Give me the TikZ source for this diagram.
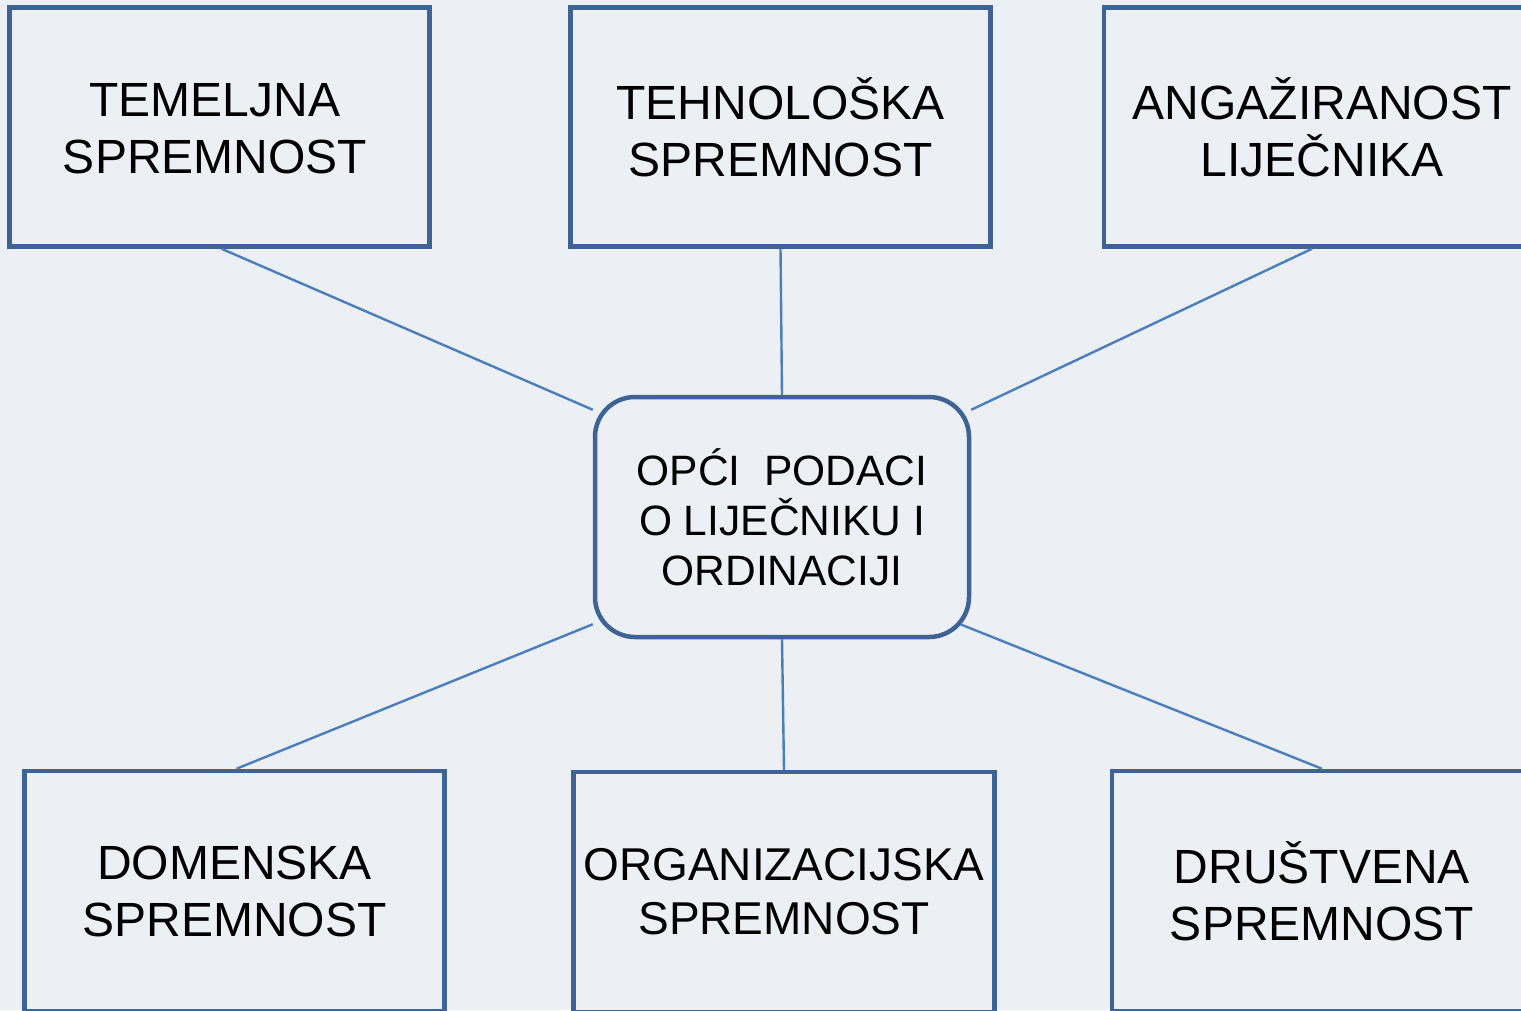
\documentclass[tikz,border=0pt]{standalone}
\usepackage{fontspec}
\setmainfont{Liberation Sans}
\usetikzlibrary{calc}
\definecolor{bgc}{HTML}{ECF0F5}
\definecolor{boxc}{HTML}{3E6394}
\definecolor{linec}{HTML}{4A7EBE}
\begin{document}
\begin{tikzpicture}[x=1pt,y=-1pt,
  box/.style={draw=boxc,line width=4.5pt,minimum height=239pt,inner sep=0pt,align=center,
    font=\fontsize{48}{57}\selectfont},
  hub/.style={draw=boxc,line width=4.5pt,rounded corners=40pt,minimum width=374pt,minimum height=240pt,
    inner sep=0pt,align=center,font=\fontsize{42.5}{50}\selectfont},
  conn/.style={draw=linec,line width=2.4pt}]
\useasboundingbox (0,0) rectangle (1521,1010);
\clip (0,0) rectangle (1521,1010);
\fill[bgc] (0,0) rectangle (1521,1010);
\node[box,minimum width=420pt] (t1) at (219.5,127) {};
\node[align=center,inner sep=0pt,font=\fontsize{48}{57}\selectfont] (t1t) at (215,129) {TEMELJNA\\SPREMNOST};
\node[box,minimum width=420pt] (t2) at (780.5,127) {TEHNOLOŠKA\\SPREMNOST};
\node[box,minimum width=436pt] (t3) at (1322,127) {ANGAŽIRANOST\\LIJEČNIKA};
\node[hub] (c) at (782,517) {OPĆI~~PODACI\\O LIJEČNIKU I\\ORDINACIJI};
\node[box,minimum width=420pt,minimum height=240pt] (b1) at (234.5,891) {DOMENSKA\\SPREMNOST};
\node[box,minimum width=421pt,minimum height=240pt,font=\fontsize{46}{54}\selectfont] (b2) at (784,892) {ORGANIZACIJSKA\\SPREMNOST};
\node[box,minimum width=420pt,minimum height=240pt] (b3) at (1322,891) {DRUŠTVENA\\SPREMNOST};
\draw[conn] ([xshift=2pt]t1.south) -- ([yshift=-15pt]c.north west);
\draw[conn] (t2.south) -- (c.north);
\draw[conn] ([xshift=-10pt]t3.south) -- ([yshift=-15pt]c.north east);
\draw[conn] ([yshift=15pt]c.south west) -- ([xshift=2pt]b1.north);
\draw[conn] (c.south) -- (b2.north);
\draw[conn] ([xshift=-11pt,yshift=15pt]c.south east) -- (b3.north);
\end{tikzpicture}
\end{document}
